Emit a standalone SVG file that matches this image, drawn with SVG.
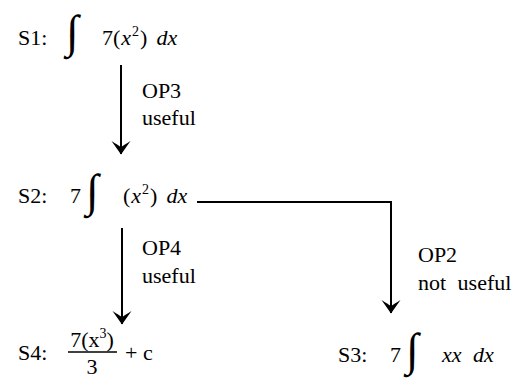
<svg xmlns="http://www.w3.org/2000/svg" width="517" height="379" viewBox="0 0 517 379">
<style>
text{font-size:22px;fill:#000}
.i{font-style:italic}
.sup{font-size:14px}
.int{font-size:46px;font-style:italic}
.edge{fill:none;stroke:#000;stroke-width:2}
</style>
<defs>
<marker id="ah" markerUnits="userSpaceOnUse" viewBox="-15 -12 17 24" refX="0" refY="0" markerWidth="17" markerHeight="24" orient="auto">
<path d="M0.5,0 L-13,-9.5 Q-9,-3 -7,0 Q-9,3 -13,9.5 Z" fill="#000"/>
</marker>
</defs>
<rect width="517" height="379" fill="#fff"/>
<g id="connectors">
<path class="edge" d="M121,65 V154" marker-end="url(#ah)"/>
<path class="edge" d="M122,228 V324" marker-end="url(#ah)"/>
<path class="edge" d="M197,202 H391 V313" marker-end="url(#ah)"/>
</g>
<g id="labels">
<text font-family="Liberation Serif" x="142" y="98">OP3</text>
<text font-family="Liberation Serif" x="142" y="125">useful</text>
<text font-family="Liberation Serif" x="142" y="255">OP4</text>
<text font-family="Liberation Serif" x="142" y="283">useful</text>
<text font-family="Liberation Serif" x="418" y="262">OP2</text>
<text font-family="Liberation Serif" x="418" y="290" word-spacing="6">not useful</text>
</g>
<g id="S1">
<text font-family="Liberation Serif" x="18" y="45">S1:</text>
<text font-family="Liberation Serif" class="int" x="66" y="47">∫</text>
<text font-family="Liberation Serif" x="102" y="45">7(<tspan class="i" dx="1">x</tspan><tspan class="sup" dx="1" dy="-9">2</tspan><tspan dx="1" dy="9">)</tspan><tspan class="i" dx="9">dx</tspan></text>
</g>
<g id="S2">
<text font-family="Liberation Serif" x="18" y="203">S2:</text>
<text font-family="Liberation Serif" x="70" y="203">7</text>
<text font-family="Liberation Serif" class="int" x="86" y="206">∫</text>
<text font-family="Liberation Serif" x="123" y="203">(<tspan class="i" dx="1">x</tspan><tspan class="sup" dx="1" dy="-9">2</tspan><tspan dx="1" dy="9">)</tspan><tspan class="i" dx="9">dx</tspan></text>
</g>
<g id="S4">
<text font-family="Liberation Serif" x="18" y="360">S4:</text>
<text font-family="Liberation Serif" x="92" y="347" text-anchor="middle">7(x<tspan class="sup" dy="-9">3</tspan><tspan dy="9">)</tspan></text>
<line x1="68" y1="352" x2="117" y2="352" stroke="#000" stroke-width="1.5"/>
<text font-family="Liberation Serif" x="92" y="374" text-anchor="middle">3</text>
<text font-family="Liberation Serif" x="125" y="360">+ c</text>
</g>
<g id="S3">
<text font-family="Liberation Serif" x="338" y="362">S3:</text>
<text font-family="Liberation Serif" x="390" y="362">7</text>
<text font-family="Liberation Serif" class="int" x="406" y="365">∫</text>
<text font-family="Liberation Serif" x="442" y="362" class="i" word-spacing="6">xx dx</text>
</g>
</svg>
